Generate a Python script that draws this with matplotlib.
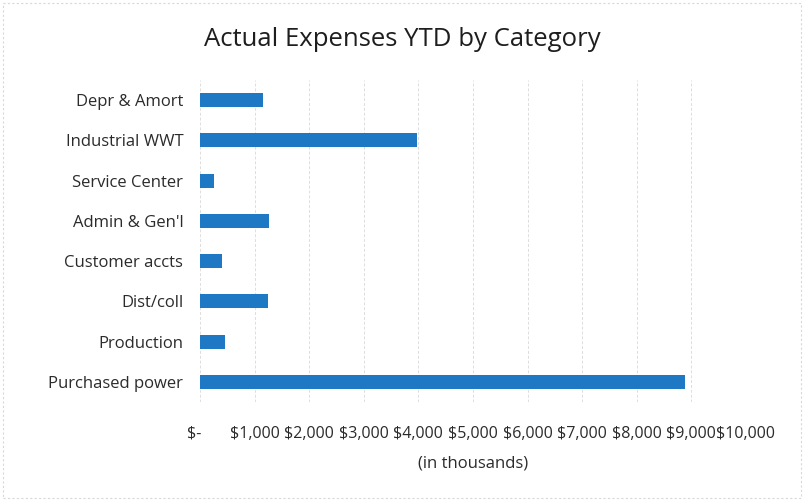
import matplotlib.pyplot as plt
from matplotlib.patches import Rectangle

# Values (in thousands of $)
categories = ['Purchased power', 'Production', 'Dist/coll', 'Customer accts',
              "Admin & Gen'l", 'Service Center', 'Industrial WWT', 'Depr & Amort']
expenses = [8890, 450, 1250, 400, 1260, 250, 3970, 1150]
tick_values = list(range(0, 10001, 1000))
tick_labels = ['$-   '] + ['${:,}'.format(v) for v in tick_values[1:]]

plt.rcParams['font.family'] = ['Open Sans', 'DejaVu Sans']

fig = plt.figure(figsize=(8.04, 5.0), dpi=100)
ax = fig.add_axes([0.2488, 0.196, 0.679, 0.644])

ax.barh(range(len(categories)), expenses, height=0.35, color='#1f78c4', zorder=3)

ax.set_xlim(0, 10000)
ax.set_ylim(-0.5, len(categories) - 0.5)
ax.set_yticks(range(len(categories)))
ax.set_yticklabels(categories, fontsize=12, color='#2b2b2b')
ax.set_xticks(tick_values)
ax.set_xticklabels(tick_labels, fontsize=11.5, color='#2b2b2b')
ax.tick_params(axis='both', length=0)
ax.tick_params(axis='x', pad=17)
ax.tick_params(axis='y', pad=12)

ax.grid(axis='x', color='#dddddd', linestyle=(0, (3, 2)), linewidth=0.7, zorder=0)
for s in ax.spines.values():
    s.set_visible(False)

ax.set_xlabel('(in thousands)', fontsize=12, color='#2b2b2b', labelpad=10)
fig.suptitle('Actual Expenses YTD by Category', fontsize=18.5, color='#1e1e1e', y=0.945)

# faint chart border
fig.patches.append(Rectangle((0.004, 0.004), 0.992, 0.99, transform=fig.transFigure,
                             fill=False, edgecolor='#d8d8d8', linewidth=0.8,
                             linestyle=(0, (2, 2))))

fig.savefig('out.png', dpi=100)
